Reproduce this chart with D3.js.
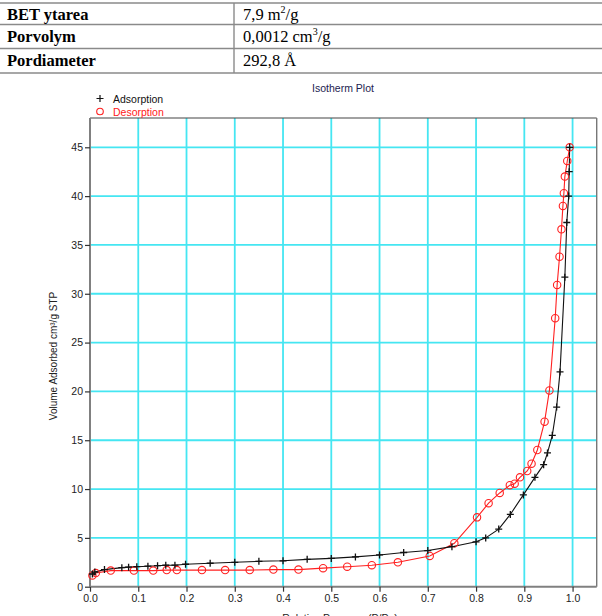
<!DOCTYPE html>
<html>
<head>
<meta charset="utf-8">
<script src="https://cdn.jsdelivr.net/npm/d3@7"></script>
<style>
  body { margin: 0; background: #fff; }
  svg { display: block; }
</style>
</head>
<body>
<svg id="chart" width="602" height="616"></svg>
<script>
// table above the plot
var tableLabels = ["BET ytarea", "Porvolym", "Pordiameter"],
    tableValues = ["7,9 m^2/g", "0,0012 cm^3/g", "292,8 Å"];

// adsorption branch (relative pressure, volume)
var adsP = [0.005, 0.01, 0.03, 0.066, 0.08, 0.097, 0.12, 0.14, 0.157, 0.176, 0.198, 0.249, 0.30, 0.35, 0.40, 0.45, 0.50, 0.55, 0.60, 0.65, 0.70, 0.75, 0.80, 0.82, 0.847, 0.871, 0.898, 0.922, 0.94, 0.948, 0.958, 0.967, 0.974, 0.984, 0.988, 0.992, 0.993, 0.994],
    adsV = [1.3, 1.5, 1.75, 1.95, 2.0, 2.05, 2.1, 2.15, 2.2, 2.2, 2.3, 2.4, 2.5, 2.6, 2.65, 2.8, 2.9, 3.05, 3.25, 3.5, 3.7, 4.1, 4.6, 5.0, 5.9, 7.4, 9.4, 11.2, 12.5, 13.7, 15.5, 18.4, 22.0, 31.7, 37.3, 40.0, 42.5, 45.0];

// desorption branch
var desP = [0.005, 0.012, 0.043, 0.091, 0.131, 0.159, 0.18, 0.232, 0.28, 0.331, 0.38, 0.432, 0.483, 0.533, 0.584, 0.638, 0.704, 0.755, 0.802, 0.826, 0.849, 0.87, 0.88, 0.891, 0.906, 0.915, 0.927, 0.942, 0.952, 0.964, 0.968, 0.973, 0.977, 0.98, 0.982, 0.984, 0.989, 0.994],
    desV = [1.15, 1.4, 1.65, 1.65, 1.65, 1.7, 1.7, 1.7, 1.7, 1.7, 1.75, 1.75, 1.9, 2.05, 2.2, 2.5, 3.15, 4.45, 7.1, 8.55, 9.6, 10.4, 10.55, 11.2, 11.85, 12.6, 14.0, 16.9, 20.1, 27.5, 30.9, 33.8, 36.6, 39.0, 40.3, 42.0, 43.6, 45.0];

var xTicks = [0, 0.1, 0.2, 0.3, 0.4, 0.5, 0.6, 0.7, 0.8, 0.9, 1.0],
    yTicks = [0, 5, 10, 15, 20, 25, 30, 35, 40, 45];

var svg = d3.select("#chart"),
    plotLeft = 90, plotRight = 596.7, plotTop = 118, plotBottom = 586.7,
    gridColor = "#45e6f2",
    sans = "Arial, 'Liberation Sans', sans-serif",
    serif = "'Liberation Serif', 'Times New Roman', serif";

var x = d3.scaleLinear().domain([0, 1.05]).range([plotLeft, plotRight]),
    y = d3.scaleLinear().domain([0, 48]).range([plotBottom, plotTop]);

// ---- table ----
var rowLines = [3, 24.5, 48.5, 73];
var table = svg.append("g");
rowLines.forEach(function(ly) {
  table.append("line")
      .attr("x1", 0).attr("x2", 602)
      .attr("y1", ly).attr("y2", ly)
      .attr("stroke", "#8a8a8a").attr("stroke-width", 1.6);
});
table.append("line")
    .attr("x1", 234).attr("x2", 234)
    .attr("y1", 3).attr("y2", 73)
    .attr("stroke", "#8a8a8a").attr("stroke-width", 1.4);

tableLabels.forEach(function(label, i) {
  table.append("text")
      .attr("x", 7).attr("y", rowLines[i] + 17)
      .attr("font-family", serif)
      .attr("font-weight", "bold")
      .attr("font-size", 16.5)
      .text(label);

  var t = table.append("text")
      .attr("x", 243).attr("y", rowLines[i] + 17)
      .attr("font-family", serif)
      .attr("font-size", 16.5);
  var raised = false;
  tableValues[i].split(/(\^\d)/).filter(p => p.length).forEach(function(part) {
    if (part[0] === "^") {
      t.append("tspan").attr("font-size", 10).attr("dy", -7).text(part.slice(1));
      raised = true;
    } else {
      t.append("tspan").attr("dy", raised ? 7 : 0).text(part);
      raised = false;
    }
  });
});

// ---- grid ----
svg.append("g").selectAll("line")
    .data(xTicks.slice(1))
    .enter().append("line")
    .attr("x1", d => x(d)).attr("x2", d => x(d))
    .attr("y1", plotTop).attr("y2", plotBottom)
    .attr("stroke", gridColor).attr("stroke-width", 1.8);

svg.append("g").selectAll("line")
    .data(yTicks.slice(1))
    .enter().append("line")
    .attr("x1", plotLeft).attr("x2", plotRight)
    .attr("y1", d => y(d)).attr("y2", d => y(d))
    .attr("stroke", gridColor).attr("stroke-width", 1.8);

// ---- frame ----
svg.append("line").attr("x1", plotLeft).attr("x2", plotRight).attr("y1", plotTop).attr("y2", plotTop)
    .attr("stroke", "#444").attr("stroke-width", 1.2);
svg.append("line").attr("x1", plotRight).attr("x2", plotRight).attr("y1", plotTop).attr("y2", plotBottom)
    .attr("stroke", "#777").attr("stroke-width", 1.4);

// ---- axes ----
var xAxis = svg.append("g")
    .attr("transform", "translate(0," + plotBottom + ")")
    .call(d3.axisBottom(x).tickValues(xTicks).tickFormat(d3.format(".1f")).tickSize(5).tickPadding(3));
var yAxis = svg.append("g")
    .attr("transform", "translate(" + plotLeft + ",0)")
    .call(d3.axisLeft(y).tickValues(yTicks).tickSize(5).tickPadding(2));

[xAxis, yAxis].forEach(function(ax) {
  ax.select(".domain").attr("stroke", "#808080").attr("stroke-width", 2);
  ax.selectAll(".tick line").attr("stroke", "#333").attr("stroke-width", 1.2);
  ax.selectAll(".tick text")
      .attr("font-family", sans).attr("font-size", 10.5).attr("fill", "#222");
});
xAxis.select(".domain").attr("d", "M" + plotLeft + ",0H" + plotRight);
yAxis.select(".domain").attr("d", "M0," + plotTop + "V" + plotBottom);

// ---- titles ----
svg.append("text")
    .attr("x", 343).attr("y", 92)
    .attr("text-anchor", "middle")
    .attr("font-family", sans).attr("font-size", 10.5)
    .attr("fill", "#1c1c50")
    .text("Isotherm Plot");

svg.append("text")
    .attr("transform", "translate(57,356) rotate(-90)")
    .attr("text-anchor", "middle")
    .attr("font-family", sans).attr("font-size", 10)
    .attr("fill", "#222")
    .text("Volume Adsorbed cm³/g STP");

svg.append("text")
    .attr("x", 340).attr("y", 622)
    .attr("text-anchor", "middle")
    .attr("font-family", sans).attr("font-size", 10.5)
    .attr("fill", "#222")
    .text("Relative Pressure (P/Po)");

// ---- series ----
var ads = adsP.map((p, i) => [p, adsV[i]]),
    des = desP.map((p, i) => [p, desV[i]]);

var line = d3.line().x(d => x(d[0])).y(d => y(d[1]));

svg.append("path")
    .attr("d", line(des))
    .attr("fill", "none").attr("stroke", "#ff2020").attr("stroke-width", 1.1);

svg.append("path")
    .attr("d", line(ads))
    .attr("fill", "none").attr("stroke", "#111").attr("stroke-width", 1.1);

svg.append("g").selectAll("circle")
    .data(des)
    .enter().append("circle")
    .attr("cx", d => x(d[0])).attr("cy", d => y(d[1]))
    .attr("r", 3.7)
    .attr("fill", "none").attr("stroke", "#ff2020").attr("stroke-width", 1.1);

var plusPath = "M-3.5,0H3.5M0,-3.5V3.5";
svg.append("g").selectAll("path")
    .data(ads)
    .enter().append("path")
    .attr("d", plusPath)
    .attr("transform", d => "translate(" + x(d[0]) + "," + y(d[1]) + ")")
    .attr("stroke", "#111").attr("stroke-width", 1.3);

// ---- legend ----
svg.append("path")
    .attr("d", plusPath)
    .attr("transform", "translate(100,98.5)")
    .attr("stroke", "#111").attr("stroke-width", 1.2);
svg.append("text")
    .attr("x", 113).attr("y", 102.5)
    .attr("font-family", sans).attr("font-size", 10.5).attr("fill", "#111")
    .text("Adsorption");
svg.append("circle")
    .attr("cx", 100).attr("cy", 111.5).attr("r", 3.3)
    .attr("fill", "none").attr("stroke", "#ff2020").attr("stroke-width", 1.1);
svg.append("text")
    .attr("x", 113).attr("y", 115.5)
    .attr("font-family", sans).attr("font-size", 10.5).attr("fill", "#ff2020")
    .text("Desorption");
</script>
</body>
</html>
